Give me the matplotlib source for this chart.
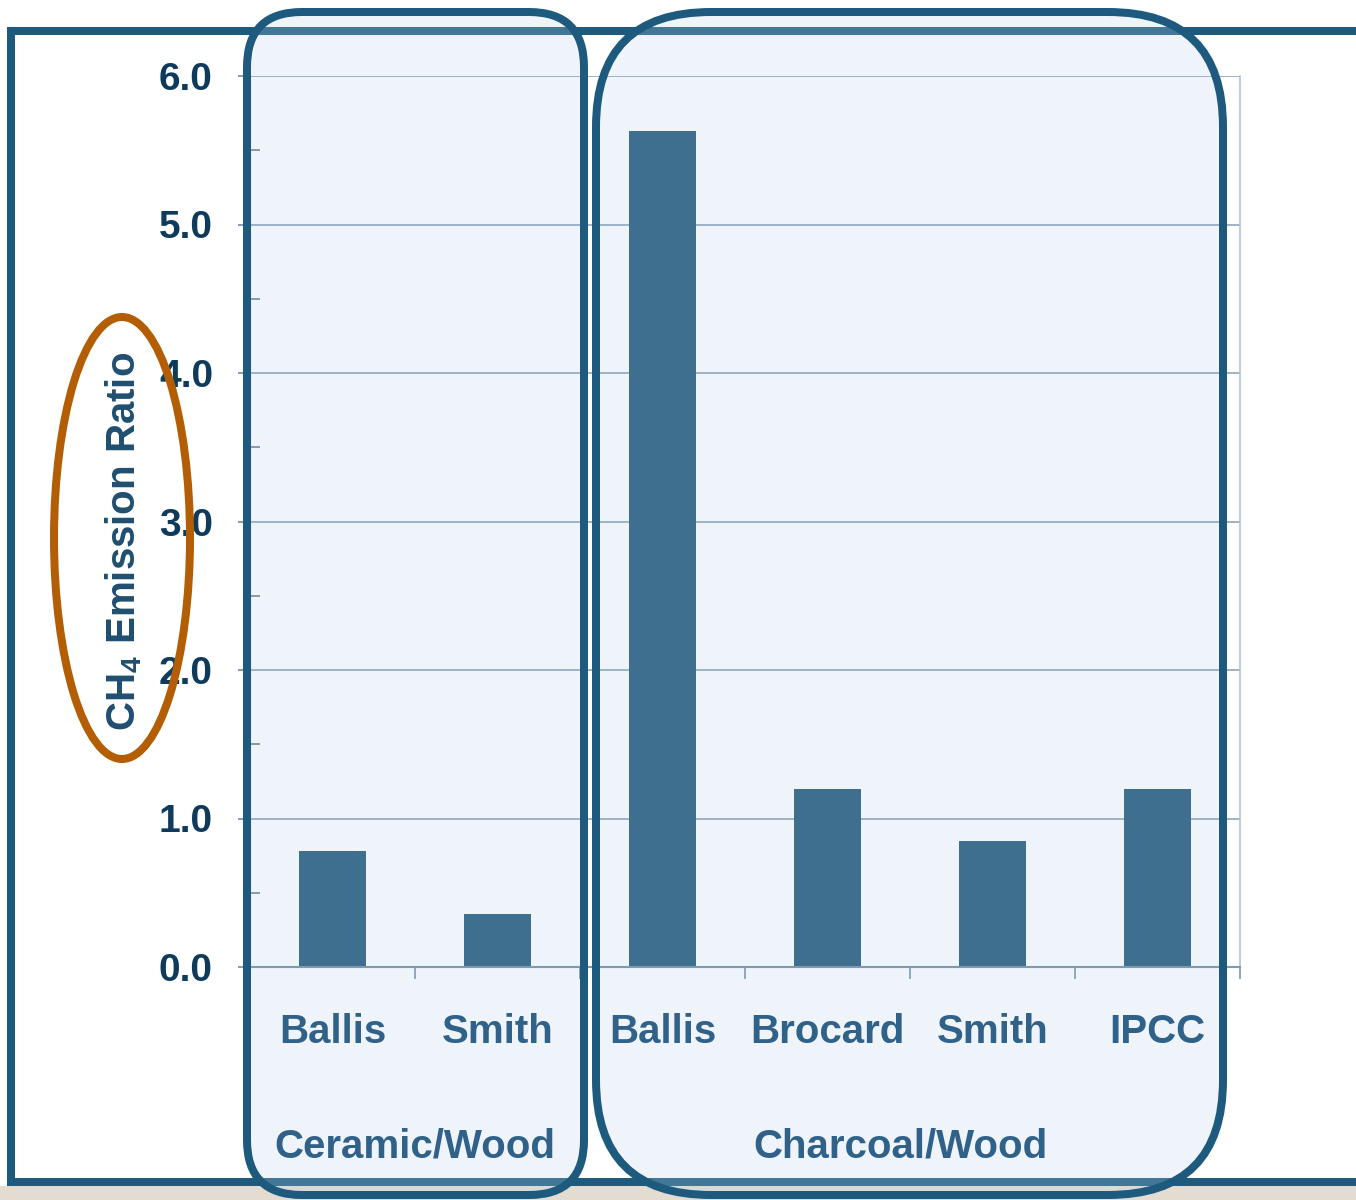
import matplotlib.pyplot as plt
from matplotlib.patches import FancyBboxPatch, Ellipse, Rectangle
from matplotlib.transforms import Affine2D, blended_transform_factory
from matplotlib.ticker import MultipleLocator, FixedLocator

# === Data ===
categories = ['Ballis', 'Smith', 'Ballis', 'Brocard', 'Smith', 'IPCC']
values = [0.78, 0.36, 5.63, 1.20, 0.85, 1.20]
groups = ['Ceramic/Wood', 'Charcoal/Wood']
group_sizes = [2, 4]
y_ticks = [0, 1, 2, 3, 4, 5, 6]

# === Colours ===
DARK = '#1E5A7D'
BAR = '#3F6F8E'
TICK_TXT = '#0E3A5B'
CAT_TXT = '#2F6189'
ORANGE = '#B35E05'
GRID = '#97AEC1'

W, H = 1356, 1200
plt.rcParams['font.family'] = ['Liberation Sans', 'DejaVu Sans']
plt.rcParams['mathtext.fontset'] = 'custom'
plt.rcParams['mathtext.rm'] = 'Liberation Sans:bold'
plt.rcParams['mathtext.it'] = 'Liberation Sans:bold'
plt.rcParams['mathtext.bf'] = 'Liberation Sans:bold'

fig = plt.figure(figsize=(W / 100, H / 100), dpi=100)
fig.patch.set_facecolor('white')
# pixel coords, origin top-left
px = Affine2D().scale(1 / W, -1 / H).translate(0, 1) + fig.transFigure
lw_px = 8 * 72 / 100

# beige strip at the bottom and the slide frame
fig.patches.append(Rectangle((0, 1186), W, 20, transform=px, facecolor='#E4DCD0',
                             edgecolor='none', zorder=-3))
fig.patches.append(Rectangle((11, 31), W + 50, 1151, transform=px, facecolor='white',
                             edgecolor=DARK, lw=lw_px, zorder=-2))

# rounded group boxes: fill below axes, outline above
boxes = [(247, 12, 337, 1183, 55), (596, 12, 627, 1183, 115)]
for x0, y0, w, h, r in boxes:
    style = f'round,pad=0,rounding_size={r}'
    fig.patches.append(FancyBboxPatch((x0, y0), w, h, boxstyle=style, transform=px,
                                      facecolor=(184/255, 213/255, 234/255, 0.24),
                                      edgecolor='none', zorder=-1))
    fig.patches.append(FancyBboxPatch((x0, y0), w, h, boxstyle=style, transform=px,
                                      facecolor='none', edgecolor=DARK, lw=lw_px, zorder=5))

# === Bar chart ===
ax = fig.add_axes([250 / W, 1 - 967 / H, 990 / W, 891 / H])
ax.patch.set_alpha(0)
x = list(range(len(categories)))
ax.bar(x, values, width=0.41, color=BAR, zorder=2)
ax.set_xlim(-0.5, len(categories) - 0.5)
ax.set_ylim(0, 6)
ax.set_axisbelow(True)

ax.set_yticks(y_ticks)
ax.set_yticklabels([f'{v:.1f}' for v in y_ticks])
ax.yaxis.set_minor_locator(MultipleLocator(0.5))
ax.tick_params(axis='y', which='major', direction='out', length=12 * 0.72, width=1.2,
               color='#6F8CA3', pad=18, labelsize=28, labelcolor=TICK_TXT)
for lab in ax.get_yticklabels():
    lab.set_fontweight('bold')
ax.tick_params(axis='y', which='minor', direction='in', length=10 * 0.72, width=1.2,
               color='#6F8CA3')
ax.grid(axis='y', which='major', color=GRID, lw=1.3)

ax.xaxis.set_major_locator(FixedLocator([i + 0.5 for i in x]))
ax.set_xticklabels([])
ax.tick_params(axis='x', which='major', direction='out', length=12 * 0.72, width=1.2,
               color='#7E9AB0')

ax.spines['top'].set_visible(False)
ax.spines['left'].set_color('#7E9AB0')
ax.spines['bottom'].set_color('#7E9AB0')
ax.spines['bottom'].set_linewidth(1.5)
ax.spines['right'].set_color('#B3C4D2')
ax.spines['right'].set_linewidth(1.2)

# category and group labels below the axis
trans = blended_transform_factory(ax.transData, px)
for i, name in enumerate(categories):
    ax.text(i, 1043, name, transform=trans, ha='center', va='baseline',
            fontsize=29, fontweight='bold', color=CAT_TXT)
start = 0
for g, n in zip(groups, group_sizes):
    centre = start + (n - 1) / 2
    if n == 4:
        centre -= 0.06
    ax.text(centre, 1157, g, transform=trans, ha='center', va='baseline',
            fontsize=29, fontweight='bold', color=CAT_TXT)
    start += n

# y label and the orange highlight ellipse
fig.text(124, 541, r'$\mathrm{CH_4\ Emission\ Ratio}$', transform=px, rotation=90,
         ha='center', va='center', fontsize=29, color='#1F4E70')
fig.patches.append(Ellipse((122, 538), 136, 442, transform=px, facecolor='none',
                           edgecolor=ORANGE, lw=lw_px, zorder=6))

fig.savefig('out.png', dpi=100)
